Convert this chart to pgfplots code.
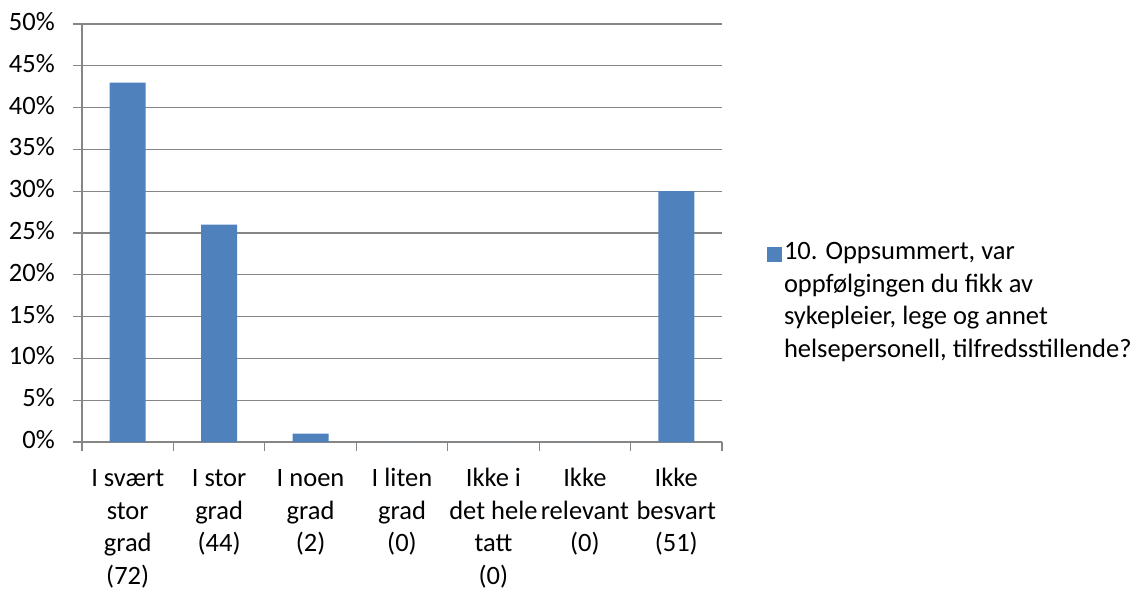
\documentclass[border=0pt]{standalone}
\usepackage{pgfplots}
\pgfplotsset{compat=1.18}
\usepackage{fontspec}
\setmainfont{Carlito}
\definecolor{barc}{RGB}{79,129,189}
\definecolor{gridc}{RGB}{134,134,134}
\begin{document}
\fontsize{26.5}{32.5}\selectfont
\begin{tikzpicture}[x=1pt,y=1pt]
\begin{axis}[
  at={(0,0)}, anchor=south west,
  scale only axis, width=640pt, height=418pt,
  xmin=-0.5, xmax=6.5, ymin=0, ymax=50,
  axis x line*=bottom, axis y line*=left,
  axis line style={gridc, line width=1.2pt, -},
  every tick/.style={gridc, line width=1.2pt},
  tick align=outside,
  ytick={0,5,...,50},
  yticklabels={0\%,5\%,10\%,15\%,20\%,25\%,30\%,35\%,40\%,45\%,50\%},
  major tick length=9pt,
  ymajorgrids, grid style={gridc, line width=1.2pt},
  xtick={-0.5,0.5,...,6.5},
  xticklabels={},
  extra x ticks={0,1,2,3,4,5,6},
  extra x tick labels={{I svært\\stor\\grad\\(72)},{I stor\\grad\\(44)},{I noen\\grad\\(2)},{I liten\\grad\\(0)},{Ikke i\\det hele\\tatt\\(0)},{Ikke\\relevant\\(0)},{Ikke\\besvart\\(51)}},
  extra x tick style={major tick length=0pt, grid=none},
  xticklabel style={align=center, anchor=north, inner sep=0pt, yshift=-22pt, font=\fontsize{26.5}{32.5}\selectfont},
  yticklabel style={anchor=east, inner sep=0pt, xshift=-18pt, font=\fontsize{26.5}{32.5}\selectfont},
  typeset ticklabels with strut,
  legend style={at={(1.07,0.483)}, anchor=north west, draw=none, fill=none, inner sep=0pt,
    font=\fontsize{26.5}{32.5}\selectfont, cells={align=left, anchor=north west}},
  legend image code/.code={\path (0pt,0pt); \fill[barc] (-5pt,-21.5pt) rectangle (10pt,-6.5pt);},
  clip=false,
]
\addplot[ybar, bar width=36pt, fill=barc, draw=none] coordinates {
  (0,43) (1,26) (2,1) (3,0) (4,0) (5,0) (6,30)
};
\addlegendentry{10. Oppsummert, var\\oppfølgingen du fikk av\\sykepleier, lege og annet\\helsepersonell, tilfredsstillende?}
\end{axis}
\path[use as bounding box] (-82,-144) rectangle (1056,442);
\end{tikzpicture}
\end{document}
